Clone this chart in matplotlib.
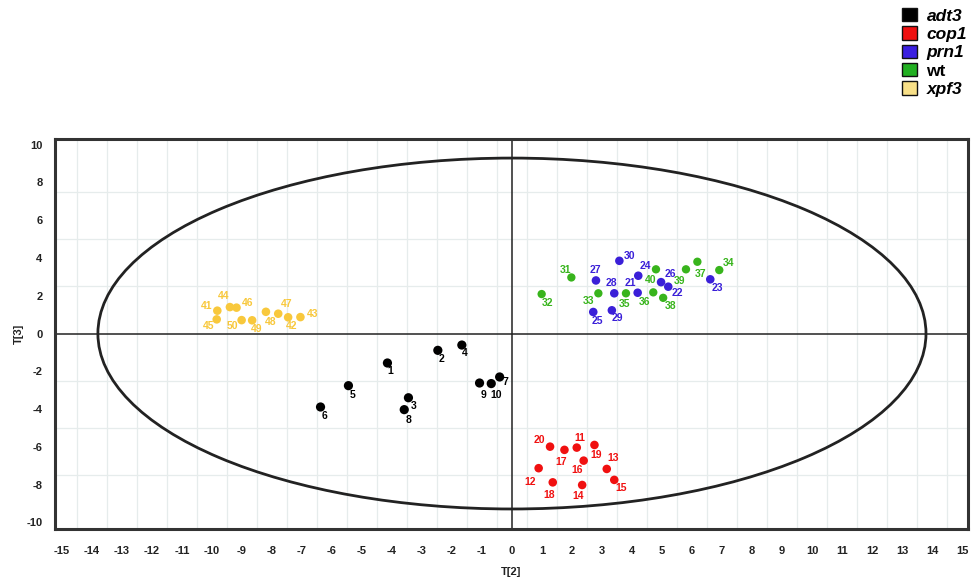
import matplotlib
matplotlib.use("Agg")
import matplotlib.pyplot as plt
from matplotlib.patches import Ellipse, Rectangle
from matplotlib.ticker import MultipleLocator
import numpy as np

# ---------------- data ----------------
groups = ["adt3", "cop1", "prn1", "wt", "xpf3"]

adt3_ids = [1, 2, 3, 4, 5, 6, 7, 8, 9, 10]
adt3_x = [-4.15, -2.47, -3.45, -1.67, -5.45, -6.38, -0.41, -3.59, -1.08, -0.69]
adt3_y = [-1.56, -0.89, -3.40, -0.61, -2.76, -3.89, -2.30, -4.03, -2.62, -2.65]

cop1_ids = [11, 12, 13, 14, 15, 16, 17, 18, 19, 20]
cop1_x = [2.16, 0.89, 3.16, 2.34, 3.41, 2.39, 1.75, 1.36, 2.75, 1.27]
cop1_y = [-6.04, -7.13, -7.17, -8.02, -7.75, -6.73, -6.16, -7.88, -5.90, -5.99]

prn1_ids = [21, 22, 23, 24, 25, 26, 27, 28, 29, 30]
prn1_x = [4.19, 5.21, 6.61, 4.21, 2.71, 4.97, 2.80, 3.41, 3.33, 3.58]
prn1_y = [2.16, 2.48, 2.87, 3.06, 1.14, 2.72, 2.81, 2.13, 1.23, 3.85]

wt_ids = [31, 32, 33, 34, 35, 36, 37, 38, 39, 40]
wt_x = [1.98, 0.99, 2.88, 6.91, 3.80, 4.71, 6.18, 5.04, 5.80, 4.80]
wt_y = [2.97, 2.09, 2.13, 3.36, 2.13, 2.18, 3.80, 1.89, 3.40, 3.40]

xpf3_ids = [41, 42, 43, 44, 45, 46, 47, 48, 49, 50]
xpf3_x = [-9.82, -7.46, -7.05, -9.40, -9.84, -9.18, -7.79, -8.20, -8.66, -9.01]
xpf3_y = [1.21, 0.86, 0.87, 1.40, 0.75, 1.37, 1.05, 1.15, 0.70, 0.71]

ellipse_a = 13.8   # semi-axis along T[2]
ellipse_b = 9.29   # semi-axis along T[3]

x_ticks = list(range(-15, 16))
y_ticks = list(range(-10, 11, 2))

# ---------------- style / layout ----------------
point_colors = {"adt3": "#000000", "cop1": "#f01010", "prn1": "#3a1fd8",
                "wt": "#38b41c", "xpf3": "#f8c83c"}
legend_colors = {"adt3": "#000000", "cop1": "#f01010", "prn1": "#3a1fe0",
                 "wt": "#22b022", "xpf3": "#f8e088"}
legend_styles = {"adt3": "italic", "cop1": "italic", "prn1": "italic",
                 "wt": "normal", "xpf3": "italic"}
marker_size = {"adt3": 44, "cop1": 38, "prn1": 38, "wt": 36, "xpf3": 38}

# label offsets in pixels (dx, dy) relative to point
label_offsets = {
    1: (3, -8), 2: (4, -9), 3: (5, -8), 4: (3, -8), 5: (4, -9),
    6: (4, -9), 7: (6, -5), 8: (4, -10), 9: (4, -12), 10: (5, -11),
    11: (3, 10), 12: (-9, -14), 13: (6, 11), 14: (-4, -11), 15: (7, -8),
    16: (-7, -9), 17: (-3, -12), 18: (-4, -13), 19: (2, -10), 20: (-11, 7),
    21: (-7, 10), 22: (9, -6), 23: (7, -9), 24: (7, 10), 25: (4, -9),
    26: (9, 8), 27: (-1, 10), 28: (-3, 10), 29: (6, -8), 30: (10, 5),
    31: (-6, 7), 32: (6, -9), 33: (-10, -8), 34: (9, 7), 35: (-1, -11),
    36: (-9, -10), 37: (3, -12), 38: (7, -8), 39: (-6, -12), 40: (-5, -11),
    41: (-11, 5), 42: (3, -9), 43: (12, 3), 44: (-6, 11), 45: (-8, -7),
    46: (11, 5), 47: (8, 10), 48: (5, -10), 49: (5, -9), 50: (-9, -6),
}

font_narrow = ["Liberation Sans Narrow", "Liberation Sans", "DejaVu Sans"]
font_regular = ["Liberation Sans", "DejaVu Sans"]
plt.rcParams["font.family"] = font_narrow

fig = plt.figure(figsize=(9.73, 5.79), dpi=100)
ax = fig.add_axes([55 / 973, 1 - 529 / 579, (968 - 55) / 973, (529 - 139) / 579])

ax.set_xlim(-15.23, 15.2)
ax.set_ylim(-10.35, 10.3)

# grid
ax.xaxis.set_minor_locator(MultipleLocator(0.5))
ax.yaxis.set_minor_locator(MultipleLocator(2.5))
ax.grid(which="minor", color="#e6ecec", linewidth=0.9)
ax.grid(which="major", visible=False)
ax.set_axisbelow(True)

ax.axhline(0, color="#222222", linewidth=1.1, zorder=1)
ax.axvline(0, color="#222222", linewidth=1.1, zorder=1)

ax.add_patch(Ellipse((0, 0), 2 * ellipse_a, 2 * ellipse_b, fill=False,
                     edgecolor="#222222", linewidth=2.0, zorder=2))

series = {
    "adt3": (adt3_ids, adt3_x, adt3_y),
    "cop1": (cop1_ids, cop1_x, cop1_y),
    "prn1": (prn1_ids, prn1_x, prn1_y),
    "wt": (wt_ids, wt_x, wt_y),
    "xpf3": (xpf3_ids, xpf3_x, xpf3_y),
}
for g in groups:
    ids, xs, ys = series[g]
    ax.scatter(xs, ys, s=marker_size[g], color=point_colors[g],
               edgecolors="none", zorder=3)
    for i, xv, yv in zip(ids, xs, ys):
        dx, dy = label_offsets[i]
        ax.annotate(str(i), (xv, yv), xytext=(dx, dy), textcoords="offset pixels",
                    ha="center", va="center", fontsize=7.5, fontweight="bold",
                    family=font_regular, color=point_colors[g], zorder=4)

ax.set_xticks(x_ticks)
ax.set_yticks(y_ticks)
ax.set_xticklabels([str(t) for t in x_ticks])
ax.set_yticklabels([str(t) for t in y_ticks])
ax.tick_params(axis="x", which="both", length=0, labelsize=8, colors="#222222", pad=12)
ax.tick_params(axis="y", which="both", length=0, labelsize=8, colors="#222222", pad=9)
for lab in ax.get_xticklabels() + ax.get_yticklabels():
    lab.set_fontweight("bold")

ax.set_xlabel("T[2]", fontsize=8, fontweight="bold", labelpad=8, color="#222222")
ax.set_ylabel("T[3]", fontsize=8, fontweight="bold", labelpad=2, color="#222222")

for sp in ax.spines.values():
    sp.set_linewidth(2.2)
    sp.set_color("#333333")

# legend
handles = [Rectangle((0, 0), 1, 1, facecolor=legend_colors[g], edgecolor="#111111",
                     linewidth=1.0) for g in groups]
leg = fig.legend(handles, groups, loc="upper left",
                 bbox_to_anchor=(890 / 973, 1 + 4 / 579), frameon=False,
                 handlelength=0.85, handleheight=0.8, handletextpad=0.55,
                 labelspacing=0.15, borderpad=0.2,
                 prop={"family": font_regular, "weight": "bold", "size": 12.5})
for t, g in zip(leg.get_texts(), groups):
    t.set_fontstyle(legend_styles[g])

fig.savefig("out.png", dpi=100)
